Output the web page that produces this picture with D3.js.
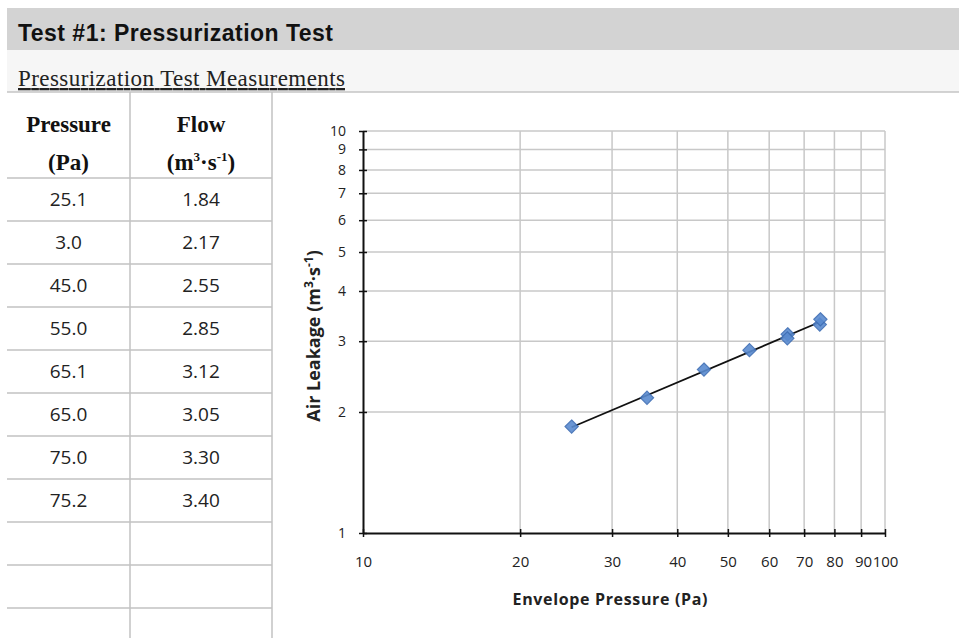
<!DOCTYPE html>
<html>
<head>
<meta charset="utf-8">
<script src="https://cdn.jsdelivr.net/npm/d3@7"></script>
<style>
  body { margin: 0; background: #fff; }
  svg { display: block; }
</style>
</head>
<body>
<script>
// values as printed in the table (the second row reads 3.0 in the source)
const pressureLabels = ["25.1", "3.0", "45.0", "55.0", "65.1", "65.0", "75.0", "75.2"];
const flowLabels = ["1.84", "2.17", "2.55", "2.85", "3.12", "3.05", "3.30", "3.40"];
// values as plotted on the chart
const pressure = [25.1, 35.0, 45.0, 55.0, 65.1, 65.0, 75.0, 75.2];
const flow = [1.84, 2.17, 2.55, 2.85, 3.12, 3.05, 3.30, 3.40];
const emptyRows = 3;

const xTicks = [10, 20, 30, 40, 50, 60, 70, 80, 90, 100];
const yTicks = [1, 2, 3, 4, 5, 6, 7, 8, 9, 10];

const width = 959, height = 638;

const svg = d3.select("body").append("svg")
    .attr("width", width)
    .attr("height", height);

// ---- header bands
svg.append("rect").attr("x", 7).attr("y", 8).attr("width", width - 7).attr("height", 42)
    .attr("fill", "#d3d3d3");
svg.append("rect").attr("x", 7).attr("y", 50).attr("width", width - 7).attr("height", 42)
    .attr("fill", "#f6f6f6");
svg.append("line").attr("x1", 7).attr("x2", width).attr("y1", 92).attr("y2", 92)
    .attr("stroke", "#c4c4c4").attr("stroke-width", 1.5);

svg.append("text")
    .attr("x", 18).attr("y", 41)
    .attr("font-family", "Liberation Sans, Arial, sans-serif")
    .attr("font-weight", "bold")
    .attr("font-size", 23)
    .attr("textLength", 315)
    .attr("fill", "#111")
    .text("Test #1: Pressurization Test");

svg.append("text")
    .attr("x", 18).attr("y", 86)
    .attr("font-family", "Liberation Serif, Times New Roman, serif")
    .attr("font-size", 23)
    .attr("textLength", 327)
    .attr("text-decoration", "underline")
    .attr("fill", "#222")
    .text("Pressurization Test Measurements");

// ---- table
const colX = [7, 130, 272];
const headH = 86, rowH = 43, tableTop = 92;
const rowCount = pressureLabels.length + emptyRows;
const rowY = d3.range(rowCount + 1).map(i => tableTop + headH + i * rowH);

const grid = svg.append("g").attr("stroke", "#c2c2c2").attr("stroke-width", 1.5);
rowY.forEach(y => grid.append("line").attr("x1", colX[0]).attr("x2", colX[2]).attr("y1", y).attr("y2", y));
colX.slice(1).forEach(x => grid.append("line").attr("x1", x).attr("x2", x).attr("y1", tableTop).attr("y2", height));

const colMid = [(colX[0] + colX[1]) / 2, (colX[1] + colX[2]) / 2];

const head = svg.append("g")
    .attr("font-family", "Liberation Serif, Times New Roman, serif")
    .attr("font-weight", "bold")
    .attr("font-size", 23)
    .attr("text-anchor", "middle")
    .attr("fill", "#111");
head.append("text").attr("x", colMid[0]).attr("y", 132).text("Pressure");
head.append("text").attr("x", colMid[0]).attr("y", 170).text("(Pa)");
head.append("text").attr("x", colMid[1]).attr("y", 132).text("Flow");
const unit = head.append("text").attr("x", colMid[1]).attr("y", 170);
unit.append("tspan").text("(m");
unit.append("tspan").attr("dy", -9).attr("font-size", 13).text("3");
unit.append("tspan").attr("dy", 9).text("·s");
unit.append("tspan").attr("dy", -9).attr("font-size", 13).text("-1");
unit.append("tspan").attr("dy", 9).text(")");

const body = svg.append("g")
    .attr("font-family", "Open Sans, Lato, sans-serif")
    .attr("font-size", 19)
    .attr("text-anchor", "middle")
    .attr("fill", "#222");
pressureLabels.forEach((p, i) => {
  const y = rowY[i] + 28;
  body.append("text").attr("x", colMid[0]).attr("y", y).text(p);
  body.append("text").attr("x", colMid[1]).attr("y", y).text(flowLabels[i]);
});

// ---- chart
const x = d3.scaleLog().domain([10, 100]).range([363, 885]);
const y = d3.scaleLog().domain([1, 10]).range([533, 131]);

const chart = svg.append("g");

chart.append("g")
    .selectAll("line.v")
    .data(xTicks.slice(1))
    .join("line")
    .attr("x1", d => x(d)).attr("x2", d => x(d))
    .attr("y1", y(1)).attr("y2", y(10))
    .attr("stroke", "#c8c8c8").attr("stroke-width", 1.5);

chart.append("g")
    .selectAll("line.h")
    .data(yTicks.slice(1))
    .join("line")
    .attr("x1", x(10)).attr("x2", x(100))
    .attr("y1", d => y(d)).attr("y2", d => y(d))
    .attr("stroke", "#c8c8c8").attr("stroke-width", 1.5);

const xAxis = chart.append("g")
    .attr("transform", `translate(0,${y(1)})`)
    .call(d3.axisBottom(x).tickValues(xTicks).tickFormat(d3.format("d")).tickSize(4).tickSizeOuter(0).tickPadding(19));
const yAxis = chart.append("g")
    .attr("transform", `translate(${x(10)},0)`)
    .call(d3.axisLeft(y).tickValues(yTicks).tickFormat(d3.format("d")).tickSize(4).tickSizeOuter(0).tickPadding(13));

[xAxis, yAxis].forEach(a => {
  a.select(".domain").attr("stroke", "#111").attr("stroke-width", 2);
  a.selectAll(".tick line").attr("stroke", "#111").attr("stroke-width", 1.5);
  a.selectAll(".tick text")
      .attr("font-family", "Open Sans, Lato, sans-serif")
      .attr("fill", "#222");
});
xAxis.selectAll(".tick text").attr("font-size", 15);
yAxis.selectAll(".tick text").attr("font-size", 14);
// ticks cross the axis line
xAxis.selectAll(".tick line").attr("y1", -4).attr("y2", 4);
yAxis.selectAll(".tick line").attr("x1", -4).attr("x2", 4);
xAxis.selectAll(".tick text").attr("dx", d => d === 90 ? 2 : 0);

// power-law trendline fitted in log space
const lx = pressure.map(Math.log), ly = flow.map(Math.log);
const mx = d3.mean(lx), my = d3.mean(ly);
const slope = d3.sum(lx.map((v, i) => (v - mx) * (ly[i] - my))) / d3.sum(lx.map(v => (v - mx) ** 2));
const icpt = my - slope * mx;
const [p0, p1] = d3.extent(pressure);
chart.append("line")
    .attr("x1", x(p0)).attr("y1", y(Math.exp(icpt + slope * Math.log(p0))))
    .attr("x2", x(p1)).attr("y2", y(Math.exp(icpt + slope * Math.log(p1))))
    .attr("stroke", "#111").attr("stroke-width", 1.8);

chart.append("g")
    .selectAll("path")
    .data(pressure)
    .join("path")
    .attr("d", d3.symbol(d3.symbolDiamond2, 110))
    .attr("transform", (d, i) => `translate(${x(d)},${y(flow[i])})`)
    .attr("fill", "#5a8bd0")
    .attr("stroke", "#3d6db4")
    .attr("stroke-width", 1.2)
    .attr("opacity", 0.9);

// axis titles
svg.append("text")
    .attr("x", 610).attr("y", 605)
    .attr("text-anchor", "middle")
    .attr("font-family", "Open Sans, Lato, sans-serif")
    .attr("font-weight", "bold")
    .attr("font-size", 16)
    .attr("textLength", 195)
    .attr("fill", "#222")
    .text("Envelope Pressure (Pa)");

const yt = svg.append("text")
    .attr("transform", "translate(320,336) rotate(-90)")
    .attr("text-anchor", "middle")
    .attr("font-family", "Open Sans, Lato, sans-serif")
    .attr("font-weight", "bold")
    .attr("font-size", 18)
    .attr("fill", "#222");
yt.append("tspan").text("Air Leakage (m");
yt.append("tspan").attr("dy", -7).attr("font-size", 12).text("3");
yt.append("tspan").attr("dy", 7).text("·s");
yt.append("tspan").attr("dy", -7).attr("font-size", 12).text("-1");
yt.append("tspan").attr("dy", 7).text(")");
</script>
</body>
</html>
